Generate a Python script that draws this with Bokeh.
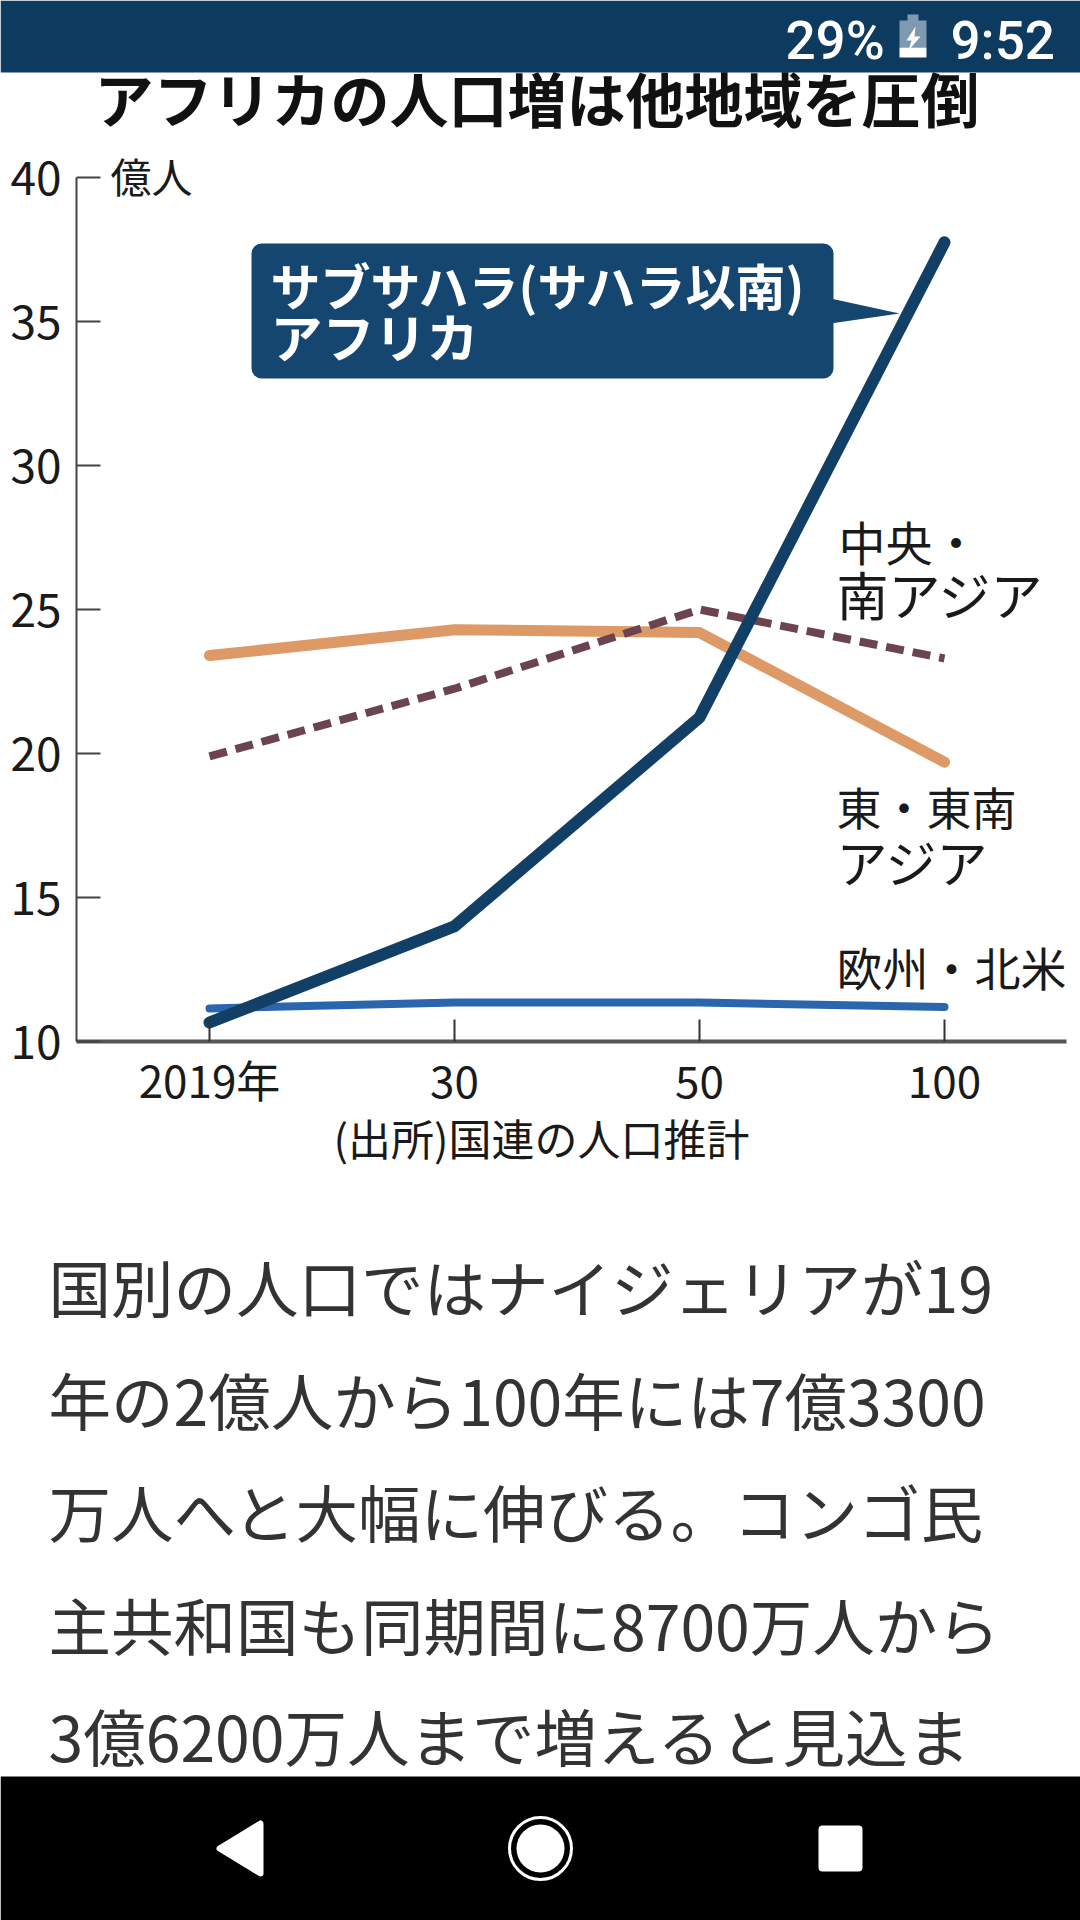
from bokeh.plotting import figure
from bokeh.models import LinearAxis, FixedTicker, Range1d, BoxAnnotation
from bokeh.core.properties import value
from bokeh.embed import file_html
from bokeh.resources import INLINE

# ---- data ----
x_labels = ["2019年", "30", "50", "100"]
x_index = [0, 1, 2, 3]
y_ticks = [10, 15, 20, 25, 30, 35, 40]
subsahara = [10.66, 14.0, 21.25, 37.75]
east_se_asia = [23.4, 24.3, 24.2, 19.7]
central_s_asia = [19.9, 22.25, 25.0, 23.3]
europe_na = [11.15, 11.35, 11.35, 11.2]

title_text = "アフリカの人口増は他地域を圧倒"
unit_text = "億人"
source_text = "(出所)国連の人口推計"
body_lines = [
    "国別の人口ではナイジェリアが19",
    "年の2億人から100年には7億3300",
    "万人へと大幅に伸びる。コンゴ民",
    "主共和国も同期間に8700万人から",
    "3億6200万人まで増えると見込ま",
]

# ---- page <-> scale ----
W, H = 1080, 1920
PX_X0, PX_DX = 209.0, 245.0
PX_Y10, PX_DY = 1041.0, 28.8
def dx(px): return (px - PX_X0) / PX_DX
def dy(py): return 10 + (PX_Y10 - py) / PX_DY

JP = "Noto Sans CJK JP"

p = figure(width=W, height=H, output_backend="svg", toolbar_location=None,
           x_axis_type=None, y_axis_type=None,
           x_range=Range1d(dx(0), dx(W)), y_range=Range1d(dy(H), dy(0)),
           min_border=0, min_border_left=0, min_border_right=0,
           min_border_top=0, min_border_bottom=0,
           outline_line_color=None, background_fill_color="white")

def txt(s, x, y, size, color="#1a1a1a", font=JP, style="normal", align="left"):
    p.text([dx(x)], [dy(y)], text=[s], text_font=value(font),
           text_font_size=f"{size}px", text_font_style=style,
           text_color=color, text_align=align, text_baseline="middle")

def box(l, r, t, b, color, radius=0):
    p.add_layout(BoxAnnotation(left=dx(l), right=dx(r), top=dy(t), bottom=dy(b),
                               fill_color=color, fill_alpha=1, line_alpha=0,
                               border_radius=radius, level="underlay"))

# status bar
box(0, W, 0, 72, "#0d3a5f")
txt("29%", 785, 40, 53, "white", "Roboto Medium")
txt("9:52", 950, 40, 53, "white", "Roboto Medium")
p.patch([dx(v) for v in (899, 907, 907, 918, 918, 926, 926, 899)],
        [dy(v) for v in (20, 20, 14, 14, 20, 20, 47, 47)],
        fill_color="#7f9ab0", line_color=None)
p.patch([dx(v) for v in (899, 926, 926, 899)], [dy(v) for v in (47, 47, 57, 57)],
        fill_color="white", line_color=None)
p.patch([dx(v) for v in (915, 906, 911, 908, 920, 914)],
        [dy(v) for v in (26, 40, 40, 50, 36, 36)], fill_color="white", line_color=None)

# title, unit, source
txt(title_text, 94, 97, 59, "#111111", JP, "bold")
txt(unit_text, 110, 174, 41)
txt(source_text, 541, 1136, 43, align="center")

# body text
for s, yy in zip(body_lines, [1285, 1398, 1510, 1623, 1734]):
    txt(s, 48, yy, 62.5, "#333333")

# axes
xa = LinearAxis(fixed_location=10, ticker=FixedTicker(ticks=x_index, minor_ticks=[]),
                bounds=(dx(76), dx(1066)),
                major_label_overrides=dict(zip(x_index, x_labels)))
xa.axis_line_color = "#555555"; xa.axis_line_width = 4
xa.major_tick_in = 22; xa.major_tick_out = 0
xa.major_tick_line_color = "#333333"; xa.major_tick_line_width = 2
xa.major_label_text_font = JP; xa.major_label_text_font_size = "44px"
xa.major_label_text_color = "#1a1a1a"; xa.major_label_standoff = 5
p.add_layout(xa, "below")

ya = LinearAxis(fixed_location=dx(76), ticker=FixedTicker(ticks=y_ticks, minor_ticks=[]),
                bounds=(10, 40))
ya.axis_line_color = "#444444"; ya.axis_line_width = 2
ya.major_tick_in = 24; ya.major_tick_out = 0
ya.major_tick_line_color = "#444444"; ya.major_tick_line_width = 2
ya.major_label_text_font = JP; ya.major_label_text_font_size = "46px"
ya.major_label_text_color = "#1a1a1a"; ya.major_label_standoff = 15
p.add_layout(ya, "left")

# series
p.line(x_index, east_se_asia, line_color="#dd9a66", line_width=11, line_cap="round", line_join="round")
p.line(x_index, central_s_asia, line_color="#6b4450", line_width=8, line_dash="18 9")
p.line(x_index, europe_na, line_color="#2a65ae", line_width=8, line_cap="round", line_join="round")
p.line(x_index, subsahara, line_color="#123f66", line_width=12, line_cap="round", line_join="miter")

# callout
box(251, 833, 243, 378, "#14466f", 10)
p.patch([dx(v) for v in (830, 899, 830)], [dy(v) for v in (298, 313, 323)],
        fill_color="#14466f", line_color=None)
txt("サブサハラ(サハラ以南)", 270, 283, 50, "white", JP, "bold")
txt("アフリカ", 270, 335, 52, "white", JP, "bold")

# series labels
txt("中央・", 838, 540, 47)
txt("南アジア", 836, 593, 52)
txt("東・東南", 836, 806, 45)
txt("アジア", 836, 860, 51)
txt("欧州・北米", 836, 965, 46)

# nav bar
box(0, W, 1776, H, "black")
p.patch([dx(v) for v in (260, 260, 219)], [dy(v) for v in (1823, 1873, 1848)],
        fill_color="white", line_color="white", line_width=6, line_join="round")
p.scatter([dx(540)], [dy(1848)], size=62, marker="circle", fill_color=None,
          line_color="white", line_width=3)
p.scatter([dx(540)], [dy(1848)], size=48, marker="circle", fill_color="white", line_color=None)
box(818, 862, 1825, 1871, "white", 4)

open("out.html", "w").write(file_html(p, INLINE))
